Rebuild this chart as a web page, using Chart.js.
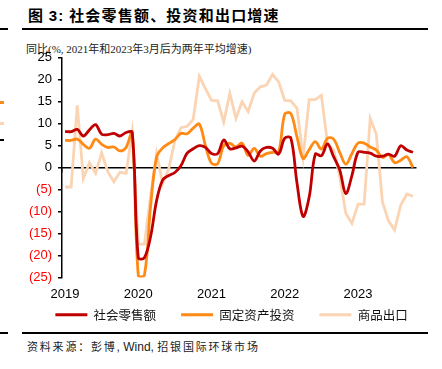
<!DOCTYPE html>
<html>
<head>
<meta charset="utf-8">
<script src="https://cdn.jsdelivr.net/npm/chart.js@4.4.1/dist/chart.umd.min.js"></script>
<style>
  html, body { margin:0; padding:0; background:#fff; }
  body { width:442px; height:369px; overflow:hidden; position:relative; font-family:"Noto Sans CJK SC", sans-serif; }
  .abs { position:absolute; }
  #title { left:28px; top:4px; font-size:15px; font-weight:bold; letter-spacing:1.2px; color:#000; white-space:nowrap; }
  #title .num { font-family:"Liberation Sans", Arial, sans-serif; }
  #sub { left:26px; top:40px; font-size:11px; color:#222; white-space:nowrap; font-family:"Liberation Serif","Noto Sans CJK SC",serif; }
  #src { left:27px; top:338px; font-size:11px; letter-spacing:1.8px; color:#222; white-space:nowrap; }
  #src .lat { font-family:"Liberation Sans", Arial, sans-serif; letter-spacing:0; font-size:12px; }
  .rule { background:#000; height:2px; }
  #chartBox { left:21px; top:44px; width:421px; height:287px; }
</style>
</head>
<body>
<div class="abs" id="title">图 <span class="num">3:</span> 社会零售额、投资和出口增速</div>
<div class="abs rule" style="left:22px;top:28px;width:406px;"></div>
<div class="abs rule" style="left:0px;top:28px;width:8px;"></div>
<div class="abs" style="left:0px;top:101px;width:4px;height:3px;background:#FF8A15"></div>
<div class="abs" style="left:0px;top:122px;width:4px;height:3px;background:#FBD4B4"></div>
<div class="abs" style="left:0px;top:139px;width:4px;height:2px;background:#000"></div>
<div class="abs" id="sub">同比(%, 2021年和2023年3月后为两年平均增速)</div>
<div class="abs" id="chartBox"><canvas id="c" width="421" height="287"></canvas></div>
<div class="abs rule" style="left:22px;top:332px;width:406px;"></div>
<div class="abs rule" style="left:0px;top:332px;width:8px;"></div>
<div class="abs" id="src">资料来源：彭博<span class="lat">, Wind, </span>招银国际环球市场</div>
<script>
const years = ['2019', '2020', '2021', '2022', '2023'];
const monthsPerYear = ['01','02','03','04','05','06','07','08','09','10','11','12'];
const categories = [];
years.forEach(y => monthsPerYear.forEach(m => categories.push(y + '-' + m)));
categories.length = 58; // Jan 2019 .. Oct 2023

const seriesNames = ['社会零售额', '固定资产投资', '商品出口'];

const retail = [
  8.2, 8.2, 8.7, 7.2, 8.6, 9.8, 7.6, 7.5, 7.8, 7.2, 8.0, 8.0,
  -20.5, -20.5, -15.8, -7.5, -2.8, -1.8, -1.1, 0.5, 3.3, 4.3, 5.0, 4.6,
  3.2, 3.2, 6.3, 4.3, 4.5, 4.9, 3.6, 1.5, 3.8, 4.6, 4.4, 3.1,
  6.7, 6.7, -3.5, -11.1, -6.7, 3.1, 2.7, 5.4, 2.5, -0.5, -5.9, -1.8,
  3.5, 3.5, 3.3, 2.6, 2.6, 3.1, 2.6, 5.0, 4.0, 3.5
];
const investment = [
  6.2, 6.2, 6.5, 5.3, 4.4, 6.5, 5.3, 4.6, 4.7, 3.8, 4.6, 8.1,
  -24.5, -24.5, -9.0, 2.4, 4.5, 5.5, 6.4, 7.8, 7.7, 9.0, 9.9, 5.0,
  1.0, 0.9, 5.0, 5.5, 4.7, 5.6, 2.8, 4.4, 2.6, 3.2, 3.5, 3.6,
  12.2, 12.3, 7.0, 2.1, 4.1, 5.9, 4.2, 6.7, 6.5, 3.5, 0.8, 3.2,
  5.6, 5.6, 4.7, 4.0, 2.3, 3.0, 1.1, 1.7, 2.5, 0.0
];
const exportsGrowth = [
  -4.4, -4.4, 14.2, -2.5, 1.1, -1.3, 3.4, -0.9, -3.2, -1.0, -1.3, 8.1,
  -17.4, -17.4, -6.6, 3.2, -3.6, -0.2, 6.2, 9.1, 9.4, 11.0, 20.8, 18.0,
  15.3, 15.2, 10.4, 16.9, 11.2, 15.0, 12.8, 17.0, 18.4, 18.8, 21.2, 19.5,
  15.3, 15.2, 13.5, 2.3, 15.5, 15.5, 16.5, 5.5, 4.0, -2.0, -10.4, -12.7,
  -8.3, -8.3, 11.2, 7.6, -7.8, -12.1, -14.2, -8.5, -6.0, -6.5
];
const yTicks = [-25, -20, -15, -10, -5, 0, 5, 10, 15, 20, 25];
const yearBoundaries = [-0.5, 11.5, 23.5, 35.5, 47.5];

const colors = ['#C00000', '#FF8A15', '#FBD4B4'];

new Chart(document.getElementById('c'), {
  type: 'line',
  data: {
    labels: categories,
    datasets: [
      { label: seriesNames[0], data: retail, borderColor: colors[0], backgroundColor: colors[0], borderWidth: 2.8, pointRadius: 0, tension: 0.35, xAxisID: 'x', yAxisID: 'y' },
      { label: seriesNames[1], data: investment, borderColor: colors[1], backgroundColor: colors[1], borderWidth: 2.8, pointRadius: 0, tension: 0.35, xAxisID: 'x', yAxisID: 'y' },
      { label: seriesNames[2], data: exportsGrowth, borderColor: colors[2], backgroundColor: colors[2], borderWidth: 2.8, pointRadius: 0, tension: 0, xAxisID: 'x', yAxisID: 'y' }
    ]
  },
  options: {
    responsive: false,
    animation: false,
    devicePixelRatio: 1,
    layout: { padding: 0 },
    plugins: {
      tooltip: { enabled: false },
      legend: {
        position: 'bottom',
        labels: {
          boxWidth: 32, boxHeight: 3, padding: 25, color: '#111',
          font: { family: '"Noto Sans CJK SC"', size: 12.5 },
          generateLabels: chart => Chart.defaults.plugins.legend.labels.generateLabels(chart).map(l => Object.assign(l, { lineWidth: 0 }))
        }
      }
    },
    scales: {
      x: {
        type: 'category', position: 'bottom', offset: true,
        grid: { display: false, drawTicks: false },
        border: { display: false },
        ticks: {
          autoSkip: false, maxRotation: 0, minRotation: 0, mirror: true, padding: -25, color: '#000',
          font: { family: '"Liberation Sans", Arial, sans-serif', size: 13 },
          callback: (v, i) => (i % 12 === 0 ? years[i / 12] : '')
        },
        afterFit: s => { s.height = 6; }
      },
      x2: {
        type: 'category', position: { y: 0 }, offset: true,
        grid: { display: true, drawOnChartArea: false, drawTicks: true, tickLength: 4, color: '#000', lineWidth: 1.5, offset: false },
        border: { display: true, color: '#000', width: 1.5 },
        ticks: { display: false },
        afterBuildTicks: s => { s.ticks = yearBoundaries.map(v => ({ value: v })); }
      },
      y: {
        type: 'linear', position: 'left', min: -25, max: 25,
        afterBuildTicks: s => { s.ticks = yTicks.map(v => ({ value: v })); },
        grid: { display: true, drawOnChartArea: false, drawTicks: true, tickLength: 4, color: '#000', lineWidth: 1.5 },
        border: { display: true, color: '#000', width: 1.5 },
        ticks: {
          padding: 6,
          font: { family: '"Liberation Sans", Arial, sans-serif', size: 13 },
          color: c => (c.tick.value < 0 ? '#FF0000' : '#000'),
          callback: v => (v < 0 ? '(' + (-v) + ')' : String(v))
        },
        afterFit: s => { s.width = 41; }
      },
      y2: {
        type: 'linear', position: 'right', display: true,
        grid: { display: false }, border: { display: false }, ticks: { display: false },
        afterFit: s => { s.width = 26; }
      }
    }
  }
});
</script>
</body>
</html>
